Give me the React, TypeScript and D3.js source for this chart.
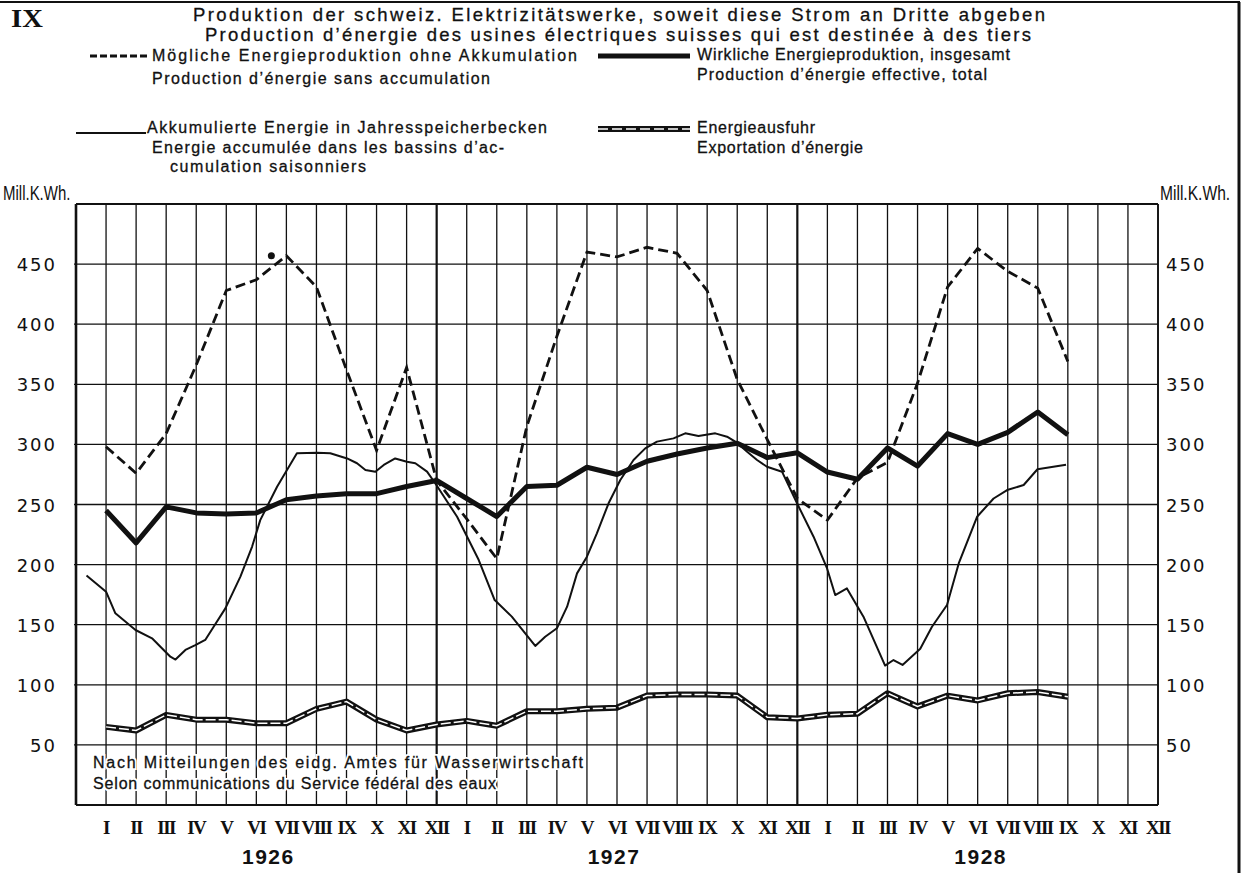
import React from "react";
import * as d3 from "d3";

// ---------- data ----------
const monthLabels = ["I", "II", "III", "IV", "V", "VI", "VII", "VIII", "IX", "X", "XI", "XII"];
const years = ["1926", "1927", "1928"];
const yearLabelPos = [5.4, 4.9, 5.1]; // month offset of year label within its year
const yTicks = [50, 100, 150, 200, 250, 300, 350, 400, 450];

// monthly values, Jan 1926 .. Sep 1928 (Mill. kWh)
const possibleProduction = [
  298, 276, 309, 366, 428, 437, 457, 431, 362, 295, 364, 270,
  238, 205, 315, 390, 460, 456, 464, 459, 428, 354, 304, 255,
  237, 272, 285, 351, 431, 463, 444, 430, 369,
];
const actualProduction = [
  245, 218, 248, 243, 242, 243, 254, 257, 259, 259, 265, 270,
  255, 240, 265, 266, 281, 275, 286, 292, 297, 301, 289, 293,
  277, 271, 297, 282, 309, 300, 310, 327, 308,
];
const energyExport = [
  65, 62, 75, 71, 71, 68, 68, 80, 86, 71, 62, 67,
  70, 66, 78, 78, 80, 81, 91, 92, 92, 91, 73, 72,
  75, 76, 93, 82, 91, 87, 93, 94, 90,
];

// accumulated energy: readings at fractional month positions (0 = Jan 1926)
const accMonth = [
  -0.65, 0.0, 0.31, 0.98, 1.53, 1.81, 2.14, 2.31, 2.64, 2.97, 3.3, 3.58, 3.97, 4.47, 4.86, 5.13, 5.69,
  6.35, 7.02, 7.46, 8.02, 8.35, 8.63, 8.96, 9.24, 9.62, 10.01, 10.29, 10.68, 10.99, 11.68, 12.4, 12.93,
  13.5, 14.28, 14.61, 15.0, 15.34, 15.67, 16.0, 16.33, 16.72, 17.11, 17.55, 17.94, 18.33, 18.88, 19.27,
  19.71, 20.27, 20.66, 20.99, 21.33, 21.66, 21.99, 22.49, 22.99, 23.54, 23.99, 24.26, 24.65, 25.2,
  25.92, 26.2, 26.5, 27.09, 27.48, 27.98, 28.37, 28.98, 29.53, 29.98, 30.53, 30.99, 31.94,
];
const accValue = [
  191, 177.5, 159.5, 145.6, 138.7, 131.7, 123.4, 121, 129, 133, 137.3, 148.3, 163.6, 190, 215, 237, 264.8,
  292.6, 293, 292.6, 288.3, 284.3, 278.7, 277.3, 282.9, 288.3, 285.6, 284.3, 277.3, 266.2, 239.8, 203.8, 170.5,
  156.7, 132.3, 140, 147, 165, 192.7, 206.6, 226, 251, 270.4, 287, 296.7, 302.3, 305, 309.2,
  307, 309.2, 306.4, 301.4, 293.8, 287, 281.4, 277.3, 251, 223.2, 196.8, 174.7, 180.2, 156.7,
  116, 120.6, 116.5, 130, 148.3, 166.4, 201, 239.8, 255, 262, 266.2, 279.3, 283,
];
const strayDot = { m: 5.5, v: 457 };

const titleLines = [
  "Produktion der schweiz. Elektrizitätswerke, soweit diese Strom an Dritte abgeben",
  "Production d’énergie des usines électriques suisses qui est destinée à des tiers",
];
const sourceLines = [
  "Nach Mitteilungen des eidg. Amtes für Wasserwirtschaft",
  "Selon communications du Service fédéral des eaux",
];
const unitLabel = "Mill.K.Wh.";

// ---------- layout ----------
const W = 1247;
const H = 873;
const plot = { left: 76, right: 1158, top: 204, bottom: 805 };
const SANS = "'Liberation Sans', Arial, sans-serif";
const SERIF = "'Liberation Serif', 'Times New Roman', serif";

export default function App() {
  const x = d3.scaleLinear().domain([-1, 35]).range([plot.left, plot.right]);
  const y = d3.scaleLinear().domain([0, 500]).range([plot.bottom, plot.top]);

  const monthly = (vals: number[]) =>
    d3
      .line<number>()
      .x((_, i) => x(i))
      .y((d) => y(d))(vals) || "";

  const accPath =
    d3
      .line<number>()
      .x((_, i) => x(accMonth[i]))
      .y((d) => y(d))(accValue) || "";

  const monthIdx = d3.range(-1, 36);
  const ink = "#111";

  const legendText = (t: string, xx: number, yy: number, len: number) => (
    <text
      x={xx}
      y={yy}
      fontFamily={SANS}
      fontSize={16}
      fill={ink}
      stroke={ink}
      strokeWidth={0.3}
      textLength={len}
      lengthAdjust="spacing"
    >
      {t}
    </text>
  );

  return (
    <svg
      width={W}
      height={H}
      style={{ position: "absolute", left: 0, top: 0, background: "#fff" }}
      xmlns="http://www.w3.org/2000/svg"
    >
      <rect x={0} y={0} width={W} height={H} fill="#fff" />
      {/* outer frame */}
      <line x1={0} y1={2} x2={1240} y2={2} stroke={ink} strokeWidth={2} />
      <line x1={1239} y1={2} x2={1239} y2={H} stroke={ink} strokeWidth={3} />

      {/* header */}
      <text transform="translate(11,27) scale(1.1,1)" fontFamily={SERIF} fontWeight="bold" fontSize={26} fill={ink}>
        IX
      </text>
      <text x={619} y={21} textAnchor="middle" fontFamily={SANS} fontSize={18.5} fill={ink} stroke={ink} strokeWidth={0.3} textLength={852} lengthAdjust="spacing">
        {titleLines[0]}
      </text>
      <text x={618} y={41} textAnchor="middle" fontFamily={SANS} fontSize={18.5} fill={ink} stroke={ink} strokeWidth={0.3} textLength={826} lengthAdjust="spacing">
        {titleLines[1]}
      </text>

      {/* legend */}
      <line x1={90} x2={150} y1={56} y2={56} stroke={ink} strokeWidth={3.2} strokeDasharray="7 3" />
      {legendText("Mögliche Energieproduktion ohne Akkumulation", 152, 61, 425)}
      {legendText("Production d’énergie sans accumulation", 152, 84, 338)}

      <line x1={76} x2={146} y1={133} y2={133} stroke={ink} strokeWidth={2.2} />
      {legendText("Akkumulierte Energie in Jahresspeicherbecken", 147, 133, 400)}
      {legendText("Energie accumulée dans les bassins d’ac-", 152, 153, 352)}
      {legendText("cumulation saisonniers", 170, 172, 196)}

      <line x1={598} x2={690} y1={56} y2={56} stroke={ink} strokeWidth={5} />
      {legendText("Wirkliche Energieproduktion, insgesamt", 697, 60, 313)}
      {legendText("Production d’énergie effective, total", 697, 80, 290)}

      <line x1={598} x2={690} y1={129} y2={129} stroke={ink} strokeWidth={6} />
      <line x1={598} x2={690} y1={129} y2={129} stroke="#fff" strokeWidth={1.5} strokeDasharray="10 4" />
      {legendText("Energieausfuhr", 697, 133, 118)}
      {legendText("Exportation d’énergie", 697, 153, 166)}

      {/* unit labels */}
      <text transform="translate(3,200) scale(0.75,1)" fontFamily={SANS} fontSize={20} fill={ink}>
        {unitLabel}
      </text>
      <text transform="translate(1160,200) scale(0.78,1)" fontFamily={SANS} fontSize={20} fill={ink}>
        {unitLabel}
      </text>

      {/* grid: vertical month lines */}
      {monthIdx.map((m) => {
        const isYearEnd = (m + 1) % 12 === 0 && m > 0 && m < 35;
        return (
          <line
            key={"v" + m}
            x1={x(m)}
            x2={x(m)}
            y1={plot.top}
            y2={plot.bottom}
            stroke={ink}
            strokeWidth={isYearEnd ? 2.2 : 1.3}
          />
        );
      })}
      {/* grid: horizontal lines */}
      {yTicks.map((t) => (
        <line key={"h" + t} x1={plot.left - 2} x2={plot.right} y1={y(t)} y2={y(t)} stroke={ink} strokeWidth={1.3} />
      ))}
      {/* frame */}
      <line x1={plot.left} x2={plot.right} y1={plot.top} y2={plot.top} stroke={ink} strokeWidth={1.8} />
      <line x1={plot.left} x2={plot.right} y1={plot.bottom} y2={plot.bottom} stroke={ink} strokeWidth={2.2} />
      <line x1={plot.left} x2={plot.left} y1={plot.top} y2={plot.bottom} stroke={ink} strokeWidth={2.6} />
      <line x1={plot.right} x2={plot.right} y1={plot.top} y2={plot.bottom} stroke={ink} strokeWidth={1.8} />

      {/* y labels */}
      {yTicks.map((t) => (
        <g key={"yl" + t}>
          <text x={57} y={y(t) + 7} textAnchor="end" fontFamily="'DejaVu Sans', sans-serif" fontSize={18} letterSpacing={2} fill={ink}>
            {t}
          </text>
          <text x={1166} y={y(t) + 7} textAnchor="start" fontFamily="'DejaVu Sans', sans-serif" fontSize={18} letterSpacing={2} fill={ink}>
            {t}
          </text>
        </g>
      ))}

      {/* source note */}
      {sourceLines.map((s, i) => (
        <g key={"src" + i}>
          <text
            x={93}
            y={768 + i * 21}
            fontFamily={SANS}
            fontSize={16}
            fill="#fff"
            stroke="#fff"
            strokeWidth={4}
            textLength={i === 0 ? 490 : 403}
            lengthAdjust="spacing"
          >
            {s}
          </text>
          <text
            x={93}
            y={768 + i * 21}
            fontFamily={SANS}
            fontSize={16}
            fill={ink}
            stroke={ink}
            strokeWidth={0.3}
            textLength={i === 0 ? 490 : 403}
            lengthAdjust="spacing"
          >
            {s}
          </text>
        </g>
      ))}

      {/* series */}
      <path d={accPath} fill="none" stroke={ink} strokeWidth={2} strokeLinejoin="round" />
      <path d={monthly(possibleProduction)} fill="none" stroke={ink} strokeWidth={2.8} strokeDasharray="10 5" />
      <path d={monthly(actualProduction)} fill="none" stroke={ink} strokeWidth={5} strokeLinejoin="round" />
      <path d={monthly(energyExport)} fill="none" stroke={ink} strokeWidth={6} strokeLinejoin="round" />
      <path d={monthly(energyExport)} fill="none" stroke="#fff" strokeWidth={1.5} strokeDasharray="10 3" />
      <circle cx={x(strayDot.m)} cy={y(strayDot.v)} r={3.5} fill={ink} />

      {/* x labels */}
      {d3.range(0, 36).map((m) => (
        <text
          key={"xl" + m}
          x={x(m)}
          y={834}
          textAnchor="middle"
          fontFamily={SERIF}
          fontWeight="bold"
          fontSize={19}
          letterSpacing={-1.5}
          fill={ink}
        >
          {monthLabels[m % 12]}
        </text>
      ))}
      {years.map((yr, i) => (
        <text
          key={yr}
          x={x(i * 12 + yearLabelPos[i])}
          y={864}
          textAnchor="middle"
          fontFamily={SANS}
          fontWeight="bold"
          fontSize={21}
          letterSpacing={1.5}
          fill={ink}
        >
          {yr}
        </text>
      ))}
    </svg>
  );
}
